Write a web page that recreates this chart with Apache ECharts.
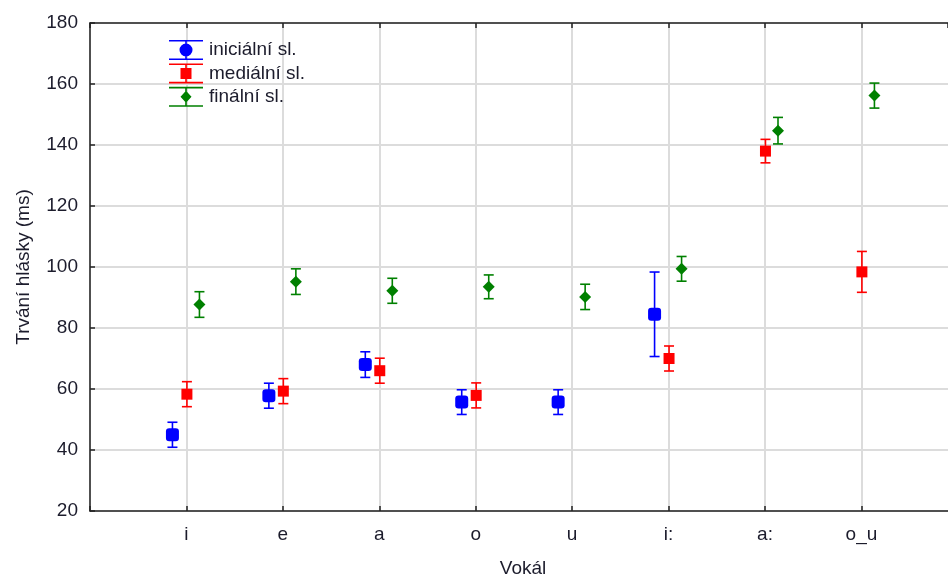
<!DOCTYPE html>
<html>
<head>
<meta charset="utf-8">
<script src="https://cdn.jsdelivr.net/npm/echarts@6/dist/echarts.min.js"></script>
<style>
  html, body { margin: 0; padding: 0; background: #fff; overflow: hidden; }
  #chart { width: 948px; height: 583px; }
</style>
</head>
<body>
<div id="chart"></div>
<script>
// Vowel categories on the x axis
const categories = ['i', 'e', 'a', 'o', 'u', 'i:', 'a:', 'o_u'];

// Mean duration (ms) and half-width of the error bar for each word position
const initialMean = [45.0, 57.8, 68.0, 55.7, 55.7, 84.5, null, null];
const initialErr  = [4.1, 4.1, 4.2, 4.05, 4.05, 13.85, null, null];

const medialMean = [58.3, 59.3, 66.0, 57.9, null, 70.0, 138.0, 98.4];
const medialErr  = [4.1, 4.1, 4.1, 4.1, null, 4.1, 3.85, 6.7];

const finalMean = [87.7, 95.2, 92.2, 93.5, 90.2, 99.4, 144.7, 156.2];
const finalErr  = [4.2, 4.2, 4.1, 3.9, 4.15, 4.05, 4.35, 4.1];

// Y axis ticks
const yMin = 20, yMax = 180, yStep = 20;

// The plot frame is cut by the right page edge just before the 9th slot
const X_MAX = 8.898;

const FONT = "'Liberation Sans', Arial, sans-serif";
const TEXT = '#1c1c2c';
const GRID = '#dcdcdc';

// Horizontal shift of each group inside a category (in category units)
const groups = [
  { name: 'iniciální sl.', mean: initialMean, err: initialErr, shift: -0.145, color: '#0000ff', symbol: 'roundRect', size: 13,
    icon: 'path://M0,0H34V1.6H0Z M16.2,1.6H17.8V18.4H16.2Z M0,18.4H34V20H0Z M10.5,10A6.5,6.5 0 1 1 23.5,10A6.5,6.5 0 1 1 10.5,10Z' },
  { name: 'mediální sl.', mean: medialMean, err: medialErr, shift: 0.005, color: '#ff0000', symbol: 'rect', size: 11,
    icon: 'path://M0,0H34V1.6H0Z M16.2,1.6H17.8V18.4H16.2Z M0,18.4H34V20H0Z M11.5,4.5H22.5V15.5H11.5Z' },
  { name: 'finální sl.', mean: finalMean, err: finalErr, shift: 0.135, color: '#008000', symbol: 'diamond', size: 12,
    icon: 'path://M0,0H34V1.6H0Z M16.2,1.6H17.8V18.4H16.2Z M0,18.4H34V20H0Z M17,4L22.5,10L17,16L11.5,10Z' }
];

function errorBars(color) {
  return function (params, api) {
    const x = api.value(0);
    const top = api.coord([x, api.value(2)]);
    const bot = api.coord([x, api.value(1)]);
    const half = 5;
    const style = { stroke: color, lineWidth: 1.6, fill: null };
    return {
      type: 'group',
      children: [
        { type: 'line', shape: { x1: top[0], y1: top[1], x2: bot[0], y2: bot[1] }, style: style },
        { type: 'line', shape: { x1: top[0] - half, y1: top[1], x2: top[0] + half, y2: top[1] }, style: style },
        { type: 'line', shape: { x1: bot[0] - half, y1: bot[1], x2: bot[0] + half, y2: bot[1] }, style: style }
      ]
    };
  };
}

const series = [];
groups.forEach(function (g) {
  const pts = [], bars = [];
  g.mean.forEach(function (m, k) {
    if (m == null) return;
    const x = k + 1 + g.shift;
    pts.push([x, m]);
    bars.push([x, m - g.err[k], m + g.err[k]]);
  });
  series.push({
    name: g.name,
    type: 'custom',
    renderItem: errorBars(g.color),
    data: bars,
    encode: { x: 0, y: [1, 2] },
    z: 2,
    silent: true
  });
  series.push({
    name: g.name,
    type: 'scatter',
    data: pts,
    symbol: g.symbol,
    symbolSize: g.size,
    itemStyle: { color: g.color, opacity: 1 },
    z: 3
  });
});

// one colour per vertical grid line; the line at the cut-off edge is hidden
const vGridColors = [];
for (let k = 0; k <= categories.length; k++) vGridColors.push(GRID);
vGridColors.push('rgba(0,0,0,0)');

const chart = echarts.init(document.getElementById('chart'), null, { renderer: 'canvas' });
chart.setOption({
  animation: false,
  backgroundColor: '#ffffff',
  textStyle: { fontFamily: FONT },
  grid: { left: 90, right: 0, top: 23, bottom: 68, containLabel: false },
  legend: {
    orient: 'vertical',
    left: 169,
    top: 40,
    padding: 0,
    itemWidth: 34,
    itemHeight: 20,
    itemGap: 3.4,
    selectedMode: false,
    textStyle: { fontFamily: FONT, fontSize: 19, color: TEXT, padding: [2, 0, 0, 1] },
    data: groups.map(function (g) {
      return { name: g.name, icon: g.icon, itemStyle: { color: g.color } };
    })
  },
  xAxis: [
    {
      type: 'value',
      min: 0,
      max: X_MAX,
      interval: 1,
      name: 'Vokál',
      nameLocation: 'middle',
      nameGap: 48,
      nameTextStyle: { fontFamily: FONT, fontSize: 19, color: TEXT, padding: [0, 0, 0, 8] },
      axisLine: { show: true, lineStyle: { color: '#222', width: 1.5 } },
      axisTick: { show: true, inside: true, length: 5, lineStyle: { color: '#222', width: 1.5 } },
      axisLabel: {
        margin: 14,
        showMaxLabel: false,
        fontFamily: FONT, fontSize: 19, color: TEXT,
        formatter: function (v) { return categories[v - 1] || ''; }
      },
      splitLine: { show: true, lineStyle: { color: vGridColors, width: 2 } }
    },
    {
      type: 'value',
      position: 'top',
      min: 0,
      max: X_MAX,
      interval: 1,
      axisLine: { show: true, lineStyle: { color: '#222', width: 1.5 } },
      axisTick: { show: true, inside: true, length: 5, lineStyle: { color: '#222', width: 1.5 } },
      axisLabel: { show: false },
      splitLine: { show: false }
    }
  ],
  yAxis: {
    type: 'value',
    min: yMin,
    max: yMax,
    interval: yStep,
    name: 'Trvání hlásky (ms)',
    nameLocation: 'middle',
    nameGap: 57,
    nameTextStyle: { fontFamily: FONT, fontSize: 19, color: TEXT },
    axisLine: { show: true, lineStyle: { color: '#222', width: 1.5 } },
    axisTick: { show: true, inside: true, length: 5, lineStyle: { color: '#222', width: 1.5 } },
    axisLabel: { margin: 12, fontFamily: FONT, fontSize: 19, color: TEXT },
    splitLine: { show: true, lineStyle: { color: GRID, width: 2 } }
  },
  series: series
});
</script>
</body>
</html>
